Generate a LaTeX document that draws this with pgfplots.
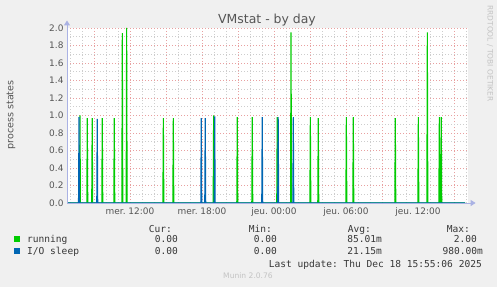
\documentclass[border=0pt]{standalone}
\usepackage{pgfplots}
\pgfplotsset{compat=1.18}
\usepackage{fontspec}
\setmainfont{DejaVu Sans}
\newfontfamily\monofont{DejaVu Sans Mono}
\usetikzlibrary{arrows.meta}
\definecolor{bgcol}{RGB}{240,240,240}
\definecolor{runcol}{RGB}{0,204,0}
\definecolor{iocol}{RGB}{0,102,179}
\definecolor{majgrid}{RGB}{232,160,160}
\definecolor{mingrid}{RGB}{205,205,205}
\definecolor{axcol}{RGB}{170,178,228}
\definecolor{txtcol}{RGB}{85,85,85}
\definecolor{legtxt}{RGB}{55,55,55}
\definecolor{faint}{RGB}{195,195,195}
\frenchspacing
\begin{document}
\begin{tikzpicture}[x=1bp,y=1bp]
\fill[bgcol] (0,0) rectangle (497,287);
\begin{axis}[
  at={(67bp,84bp)}, anchor=south west, scale only axis,
  width=401bp, height=175bp,
  xmin=6.75, xmax=40.17, ymin=0, ymax=2,
  axis background/.style={fill=white},
  axis line style={draw=none},
  major tick length=0pt, minor tick length=0pt,
  grid=both,
  major grid style={draw=majgrid, line width=0.8bp, dash pattern=on 1bp off 2bp},
  minor grid style={draw=mingrid, line width=0.8bp, dash pattern=on 1bp off 2bp},
  xtick={9,12,15,18,21,24,27,30,33,36,39},
  xticklabels={,mer. 12:00,,mer. 18:00,,jeu. 00:00,,jeu. 06:00,,jeu. 12:00,},
  minor xtick={7,8,...,40},
  ytick={0,0.2,0.4,0.6,0.8,1,1.2,1.4,1.6,1.8,2},
  yticklabels={0.0,0.2,0.4,0.6,0.8,1.0,1.2,1.4,1.6,1.8,2.0},
  minor ytick={0.1,0.3,0.5,0.7,0.9,1.1,1.3,1.5,1.7,1.9},
  tick label style={font=\fontsize{9}{10}\selectfont, text=txtcol},
  xticklabel style={yshift=-1bp},
  clip=false,
  after end axis/.code={
    \draw[axcol, line width=1bp, -{Triangle[width=6bp,length=5bp]}] (rel axis cs:0,0) -- (rel axis cs:1.019,0);
    \draw[axcol, line width=1bp, -{Triangle[width=6bp,length=5bp]}] (rel axis cs:0,0) -- (rel axis cs:0,1.043);
  },
]
\addplot[runcol, line width=1.1bp] coordinates {
(6.83,0)
(7.79,0)(7.83,1.00)(7.87,0)
(8.40,0)(8.44,0.97)(8.48,0)
(8.81,0)(8.85,0.97)(8.89,0)
(9.65,0)(9.69,0.97)(9.73,0)
(10.65,0)(10.69,0.97)(10.73,0)
(11.32,0)(11.36,1.94)(11.40,0)
(11.68,0)(11.72,2.00)(11.76,0)
(14.74,0)(14.78,0.97)(14.82,0)
(15.57,0)(15.61,0.97)(15.65,0)
(18.93,0)(18.97,1.00)(19.01,0)
(20.90,0)(20.94,0.98)(20.98,0)
(22.15,0)(22.19,0.98)(22.23,0)
(24.23,0)(24.27,0.98)(24.31,0)
(25.38,0)(25.42,1.95)(25.46,0)
(26.99,0)(27.03,0.98)(27.07,0)
(27.65,0)(27.69,0.97)(27.73,0)
(29.99,0)(30.03,0.98)(30.07,0)
(30.57,0)(30.61,0.98)(30.65,0)
(34.07,0)(34.11,0.97)(34.15,0)
(35.99,0)(36.03,0.98)(36.07,0)
(36.74,0)(36.78,1.95)(36.82,0)
(37.74,0)(37.78,0.98)(37.82,0)
(37.90,0)(37.94,0.98)(37.98,0)
(39.92,0)
};
\addplot[iocol, line width=1.1bp] coordinates {
(6.83,0)
(7.71,0)(7.75,0.98)(7.79,0)
(9.23,0)(9.27,0.96)(9.31,0)
(17.90,0)(17.94,0.97)(17.98,0)
(18.23,0)(18.27,0.97)(18.31,0)
(19.02,0)(19.06,0.99)(19.10,0)
(22.98,0)(23.02,0.98)(23.06,0)
(24.31,0)(24.35,0.98)(24.39,0)
(25.57,0)(25.61,0.98)(25.65,0)
(39.92,0)
};
\end{axis}
% title, axis label, side text
\node[anchor=base, inner sep=0, text=txtcol, font=\fontsize{12.5}{14}\selectfont] at (267,264) {VMstat - by day};
\node[rotate=90, inner sep=0, text=txtcol, font=\fontsize{9.6}{11}\selectfont] at (11,172) {process states};
\node[rotate=-90, inner sep=0, text=faint, font=\fontsize{7.5}{9}\selectfont] at (490,233.5) {RRDTOOL / TOBI OETIKER};
% legend
\begin{scope}[every node/.style={inner sep=0, text=legtxt, font=\monofont\fontsize{9.6}{11}\selectfont}]
\node[anchor=base east] at (172,55) {Cur:};
\node[anchor=base east] at (272,55) {Min:};
\node[anchor=base east] at (371,55) {Avg:};
\node[anchor=base east] at (470,55) {Max:};
\node[anchor=base west] at (14,45) {\textcolor{runcol}{\rule{6bp}{6bp}}};
\node[anchor=base west] at (27,45) {running};
\node[anchor=base east] at (178,45) {0.00};
\node[anchor=base east] at (277,45) {0.00};
\node[anchor=base east] at (382,45) {85.01m};
\node[anchor=base east] at (477,45) {2.00};
\node[anchor=base west] at (14,33) {\textcolor{iocol}{\rule{6bp}{6bp}}};
\node[anchor=base west] at (27,33) {I/O sleep};
\node[anchor=base east] at (178,33) {0.00};
\node[anchor=base east] at (277,33) {0.00};
\node[anchor=base east] at (382,33) {21.15m};
\node[anchor=base east] at (483,33) {980.00m};
\node[anchor=base east] at (482,20) {Last update: Thu Dec 18 15:55:06 2025};
\end{scope}
\node[anchor=base, inner sep=0, text=faint, font=\fontsize{7.6}{9}\selectfont] at (248,9) {Munin 2.0.76};
\end{tikzpicture}
\end{document}
